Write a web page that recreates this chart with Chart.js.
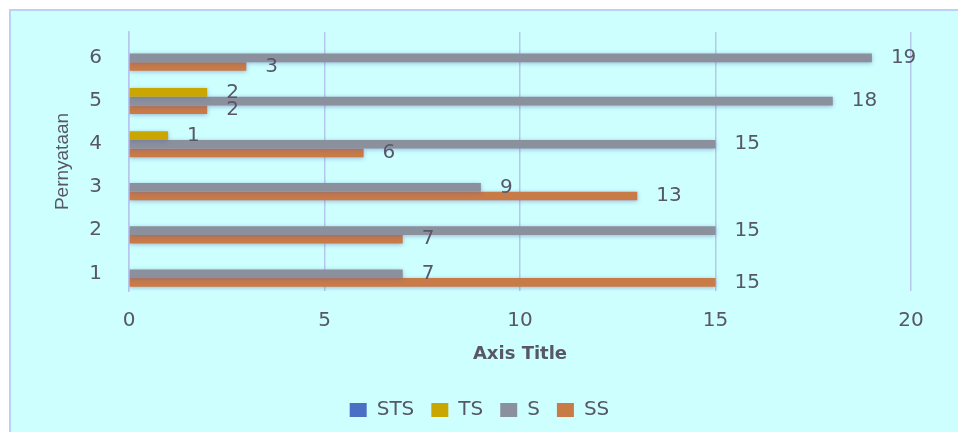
<!DOCTYPE html>
<html>
<head>
<meta charset="utf-8">
<script src="https://cdn.jsdelivr.net/npm/chart.js@4/dist/chart.umd.min.js"></script>
<style>
  html, body { margin: 0; padding: 0; background: #fff; overflow: hidden; }
  #wrap { width: 958px; height: 432px; position: relative; }
  canvas { display: block; }
</style>
</head>
<body>
<div id="wrap"><canvas id="myChart" width="958" height="432"></canvas></div>
<script>
// data
var categories = ["1", "2", "3", "4", "5", "6"];
var stsValues = [0, 0, 0, 0, 0, 0];
var tsValues = [0, 0, 0, 1, 2, 0];
var sValues = [7, 15, 9, 15, 18, 19];
var ssValues = [15, 7, 13, 6, 2, 3];
var xTicks = [0, 5, 10, 15, 20];

var textColor = "#575768";
var gridColor = "#b7c6ee";

// page background with the thin blue frame
var bgPlugin = {
    id: "bg",
    beforeDraw: function (chart) {
        var ctx = chart.ctx;
        ctx.save();
        ctx.fillStyle = "#ffffff";
        ctx.fillRect(0, 0, chart.width, chart.height);
        ctx.fillStyle = "#ccfffe";
        ctx.fillRect(9, 9, chart.width - 9, chart.height - 9);
        ctx.strokeStyle = "#b9d3f6";
        ctx.lineWidth = 2;
        ctx.beginPath();
        ctx.moveTo(10, chart.height);
        ctx.lineTo(10, 10);
        ctx.lineTo(chart.width, 10);
        ctx.stroke();
        ctx.restore();
    }
};

// soft glow around bars + value labels
var barLabels = {
    id: "barLabels",
    beforeDatasetsDraw: function (chart) {
        var ctx = chart.ctx;
        ctx.save();
        ctx.shadowColor = "rgba(90, 90, 170, 0.45)";
        ctx.shadowBlur = 4;
        ctx.shadowOffsetY = 1;
    },
    afterDatasetsDraw: function (chart) {
        var ctx = chart.ctx;
        ctx.restore();
        ctx.save();
        ctx.font = "20px 'DejaVu Sans'";
        ctx.fillStyle = textColor;
        ctx.textAlign = "left";
        ctx.textBaseline = "middle";
        chart.data.datasets.forEach(function (ds, i) {
            var meta = chart.getDatasetMeta(i);
            meta.data.forEach(function (bar, j) {
                var v = ds.data[j];
                if (!v) return;
                ctx.fillText(String(v), bar.x + 19, bar.y);
            });
        });
        ctx.restore();
    }
};

new Chart("myChart", {
    type: "bar",
    data: {
        labels: categories,
        datasets: [
            { label: "STS", data: stsValues, backgroundColor: "#4a70c6" },
            { label: "TS", data: tsValues, backgroundColor: "#c9a700" },
            { label: "S", data: sValues, backgroundColor: "#8b909d" },
            { label: "SS", data: ssValues, backgroundColor: "#c87a47" }
        ]
    },
    options: {
        indexAxis: "y",
        responsive: false,
        animation: false,
        categoryPercentage: 0.8,
        barPercentage: 1.0,
        layout: { padding: { left: 48, right: 47, top: 32, bottom: 2 } },
        plugins: {
            legend: {
                position: "bottom",
                labels: {
                    color: textColor,
                    font: { family: "'DejaVu Sans'", size: 20 },
                    boxWidth: 17,
                    boxHeight: 14,
                    padding: 17
                }
            },
            tooltip: { enabled: false }
        },
        scales: {
            x: {
                min: 0,
                max: 20,
                afterBuildTicks: function (scale) {
                    scale.ticks = xTicks.map(function (v) { return { value: v }; });
                },
                afterFit: function (scale) { scale.height = 92; },
                grid: { color: gridColor, lineWidth: 1.5, drawTicks: false },
                border: { display: false },
                ticks: {
                    color: textColor,
                    font: { family: "'DejaVu Sans'", size: 20 },
                    padding: 18
                },
                title: {
                    display: true,
                    text: "Axis Title",
                    color: textColor,
                    font: { family: "'DejaVu Sans'", size: 18, weight: "bold" },
                    padding: { top: 4, bottom: 18 }
                }
            },
            y: {
                reverse: true,
                afterFit: function (scale) {
                    scale.width = 81;
                    scale.paddingTop = 0;
                    scale.paddingBottom = 0;
                },
                grid: { display: false, drawTicks: false },
                border: { display: true, color: gridColor, width: 1.5 },
                ticks: {
                    color: textColor,
                    font: { family: "'DejaVu Sans'", size: 20 },
                    padding: 27,
                    labelOffset: 4
                },
                title: {
                    display: true,
                    text: "Pernyataan",
                    color: textColor,
                    font: { family: "'Liberation Sans'", size: 19 },
                    padding: { top: 3, bottom: 4 }
                }
            }
        }
    },
    plugins: [bgPlugin, barLabels]
});
</script>
</body>
</html>
